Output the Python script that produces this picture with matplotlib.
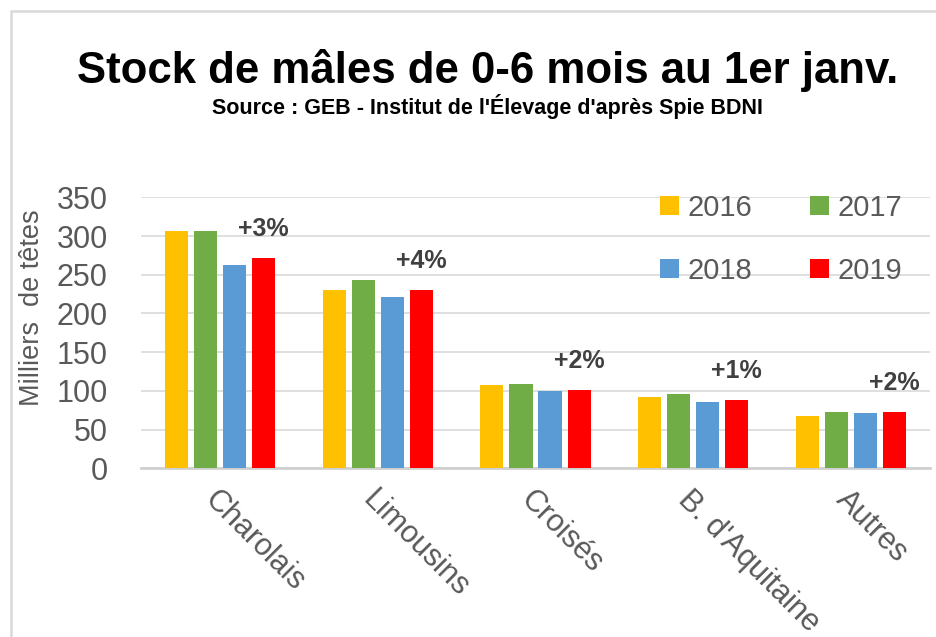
import matplotlib
matplotlib.use("Agg")
import matplotlib.pyplot as plt
import numpy as np
from matplotlib.patches import Rectangle, Patch

categories = ["Charolais", "Limousins", "Croisés", "B. d'Aquitaine", "Autres"]
years = ["2016", "2017", "2018", "2019"]
v2016 = [307, 230, 108, 92, 68]
v2017 = [306, 243, 109, 96, 73]
v2018 = [263, 221, 100, 86, 71]
v2019 = [271, 230, 101, 88, 73]
pct_labels = ["+3%", "+4%", "+2%", "+1%", "+2%"]
colors = ["#FFC000", "#70AD47", "#5B9BD5", "#FF0000"]

FONT = ["Liberation Sans Narrow", "Liberation Sans", "DejaVu Sans"]
plt.rcParams["font.family"] = FONT

W, H = 937, 637
fig = plt.figure(figsize=(W / 100, H / 100), dpi=100)

# border
fig.patches.append(Rectangle((11 / W, -0.1), 1.2, 1 - 11 / H + 0.1, transform=fig.transFigure,
                             fill=False, edgecolor="#D9D9D9", linewidth=1.8))

left, right = 141 / W, 930 / W
bottom, top = 1 - 468.3 / H, 1 - 197.3 / H
ax = fig.add_axes([left, bottom, right - left, top - bottom])

series = [v2016, v2017, v2018, v2019]
x = np.arange(len(categories))
spacing = 0.184
width = 0.146
handles = []
for i, (vals, col, yr) in enumerate(zip(series, colors, years)):
    off = (i - 1.5) * spacing
    ax.bar(x + off, vals, width=width, color=col, zorder=3)
    handles.append(Patch(facecolor=col, edgecolor="none", label=yr))

for xi, v, lab in zip(x, v2019, pct_labels):
    ax.annotate(lab, xy=(xi + 1.5 * spacing, v), xytext=(0, 29), textcoords="offset pixels",
                ha="center", va="center", fontsize=18, fontweight="bold", color="#404040")

ax.set_xlim(-0.5, len(categories) - 0.5)
ax.set_ylim(0, 350)
ax.set_yticks(np.arange(0, 351, 50))
ax.yaxis.grid(True, color="#D9D9D9", linewidth=1.2, zorder=0)
ax.set_axisbelow(True)
for s in ["top", "right", "left"]:
    ax.spines[s].set_visible(False)
ax.spines["bottom"].set_color("#D0D0D0")
ax.spines["bottom"].set_linewidth(2)
ax.tick_params(axis="y", length=0, pad=24, labelsize=22, labelcolor="#595959")
ax.tick_params(axis="x", length=0, pad=12)
ax.set_xticks(x)
ax.set_xticklabels(categories, rotation=-45, ha="left", rotation_mode="anchor",
                   fontsize=22, color="#595959")

fig.text(32 / W, 1 - 308 / H, "Milliers  de têtes", rotation=90, ha="center", va="center",
         fontsize=19.5, color="#595959")

fig.text(488 / W, 1 - 83 / H, "Stock de mâles de 0-6 mois au 1er janv.", ha="center", va="baseline",
         fontsize=31.5, fontweight="bold", color="black")
fig.text(487 / W, 1 - 114 / H, "Source : GEB - Institut de l'Élevage d'après Spie BDNI", ha="center",
         va="baseline", fontsize=15.5, fontweight="bold", color="black")

order = [0, 2, 1, 3]
leg = ax.legend(handles=[handles[k] for k in order], ncol=2, loc="upper left",
                bbox_to_anchor=(660 / W, 1 - 194 / H),
                bbox_transform=fig.transFigure, frameon=False, fontsize=21, handlelength=0.65,
                handleheight=0.65, handletextpad=0.28, columnspacing=2.0, labelspacing=1.2,
                borderpad=0, borderaxespad=0)
for t in leg.get_texts():
    t.set_color("#595959")

fig.savefig("out.png", dpi=100)
